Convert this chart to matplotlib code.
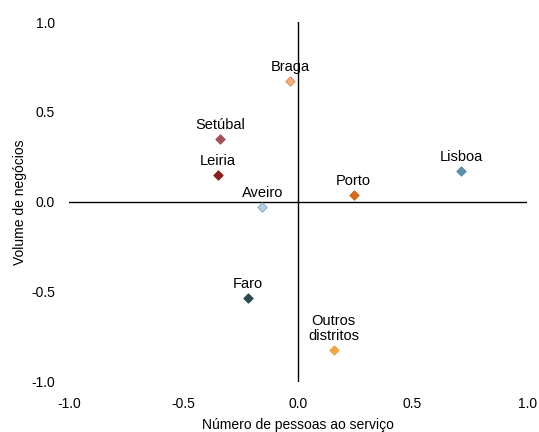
import matplotlib.pyplot as plt

plt.rcParams['font.family'] = ['Liberation Sans', 'DejaVu Sans']

districts = ["Braga", "Setúbal", "Leiria", "Aveiro", "Porto", "Lisboa", "Faro", "Outros\ndistritos"]
emp = [-0.035, -0.34, -0.35, -0.156, 0.242, 0.712, -0.218, 0.156]
vol = [0.674, 0.35, 0.15, -0.026, 0.039, 0.174, -0.535, -0.822]
colors = ["#F2AE7E", "#A24F5B", "#8A1F1F", "#B9D1E2", "#D2691E", "#5A90AA", "#2C4A55", "#F0A64A"]
edges = ["#E0956A", "#A24F5B", "#8A1F1F", "#8FAFC6", "#D2691E", "#5A90AA", "#2C4A55", "#F0A64A"]

ticks = [-1.0, -0.5, 0.0, 0.5, 1.0]

fig = plt.figure(figsize=(5.39, 4.32), dpi=100)
ax = fig.add_axes([0.128, 0.116, 0.85, 0.833])

# quadrant lines through the origin
ax.axhline(0, color="black", lw=1.0, zorder=1)
ax.axvline(0, color="black", lw=1.0, zorder=1)

for x, y, name, c, ec in zip(emp, vol, districts, colors, edges):
    ax.scatter(x, y, marker="D", s=22, c=c, edgecolors=ec, linewidths=0.8, zorder=3)
    ax.annotate(name, (x, y), xytext=(0, 5), textcoords="offset points",
                ha="center", va="bottom", fontsize=10.5, linespacing=1.1)

ax.set_xlim(-1, 1)
ax.set_ylim(-1, 1)
ax.set_xticks(ticks)
ax.set_yticks(ticks)
ax.set_xticklabels([f"{t:.1f}" for t in ticks])
ax.set_yticklabels([f"{t:.1f}" for t in ticks])
ax.tick_params(axis="both", length=0, labelsize=10)
ax.tick_params(axis="x", pad=11)
ax.tick_params(axis="y", pad=10)

for s in ax.spines.values():
    s.set_visible(False)

ax.set_xlabel("Número de pessoas ao serviço", fontsize=10, labelpad=5)
ax.set_ylabel("Volume de negócios", fontsize=10, labelpad=3)

fig.savefig("out.png", dpi=100)
